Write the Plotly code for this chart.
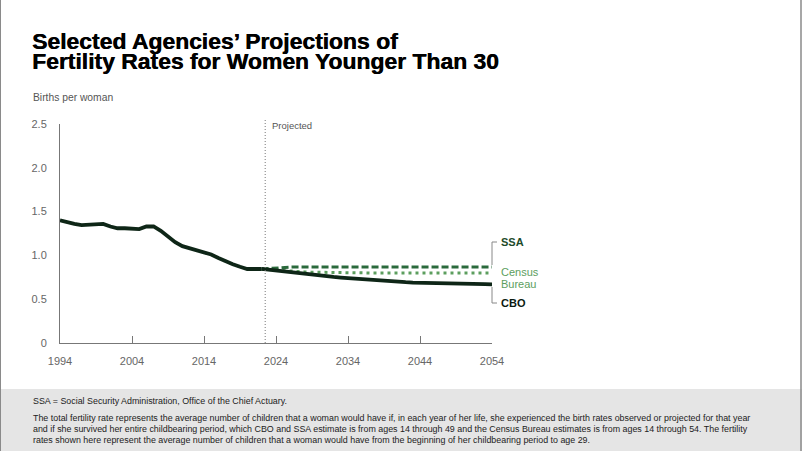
import plotly.graph_objects as go

# ---------------- data ----------------
hist_years = list(range(1994, 2023))
hist_values = [1.40, 1.375, 1.36, 1.345, 1.35, 1.345, 1.36, 1.33, 1.31, 1.31,
               1.30, 1.30, 1.33, 1.33, 1.28, 1.22, 1.15, 1.105, 1.08, 1.06,
               1.04, 1.01, 0.97, 0.93, 0.90, 0.87, 0.845, 0.845, 0.845]

proj_years = list(range(2022, 2055))
cbo_values = [0.845, 0.835, 0.825, 0.815, 0.805, 0.795, 0.786, 0.777, 0.769, 0.761,
              0.754, 0.747, 0.740, 0.733, 0.726, 0.720, 0.714, 0.708, 0.703, 0.698,
              0.694, 0.690, 0.687, 0.684, 0.681, 0.679, 0.677, 0.675, 0.674, 0.673,
              0.672, 0.671, 0.670]
ssa_values = [0.845, 0.852, 0.858, 0.863, 0.866, 0.868, 0.869, 0.869, 0.869, 0.869,
              0.869, 0.869, 0.869, 0.869, 0.869, 0.869, 0.869, 0.869, 0.869, 0.869,
              0.869, 0.869, 0.869, 0.869, 0.869, 0.869, 0.869, 0.869, 0.869, 0.869,
              0.869, 0.869, 0.869]
census_values = [0.845, 0.838, 0.831, 0.825, 0.820, 0.815, 0.811, 0.808, 0.806, 0.804,
                 0.803, 0.802, 0.801, 0.800, 0.800, 0.800, 0.800, 0.800, 0.800, 0.800,
                 0.800, 0.800, 0.800, 0.800, 0.800, 0.800, 0.800, 0.800, 0.800, 0.800,
                 0.800, 0.800, 0.800]

x_ticks = [1994, 2004, 2014, 2024, 2034, 2044, 2054]
y_ticks = [0, 0.5, 1.0, 1.5, 2.0, 2.5]
y_tick_labels = ["0", "0.5", "1.0", "1.5", "2.0", "2.5"]
projection_start = 2022.5

title_lines = ["Selected Agencies\u2019 Projections of",
               "Fertility Rates for Women Younger Than 30"]
note_lines = [
    "SSA = Social Security Administration, Office of the Chief Actuary.",
    "The total fertility rate represents the average number of children that a woman would have if, in each year of her life, she experienced the birth rates observed or projected for that year",
    "and if she survived her entire childbearing period, which CBO and SSA estimate is from ages 14 through 49 and the Census Bureau estimates is from ages 14 through 54. The fertility",
    "rates shown here represent the average number of children that a woman would have from the beginning of her childbearing period to age 29.",
]

# ---------------- styles ----------------
C_CBO = "#0e2617"
C_SSA = "#2b6a3c"
C_CEN = "#5c9e5e"
GRAY = "#666666"
FONT = "Liberation Sans, Arial, sans-serif"

W, H = 802, 451
ML, MR, MT, MB = 60, 310, 124, 108
PW, PH = W - ML - MR, H - MT - MB


def px(x):
    return (x - ML) / PW


def py(y):
    return (H - MB - y) / PH


fig = go.Figure()

fig.add_trace(go.Scatter(x=proj_years, y=census_values, mode="lines",
                         line=dict(color=C_CEN, width=3, dash="3px,4px"),
                         hoverinfo="skip", showlegend=False))
fig.add_trace(go.Scatter(x=proj_years, y=ssa_values, mode="lines",
                         line=dict(color=C_SSA, width=3, dash="7px,3px"),
                         hoverinfo="skip", showlegend=False))
fig.add_trace(go.Scatter(x=hist_years, y=hist_values, mode="lines",
                         line=dict(color=C_CBO, width=3.8),
                         hoverinfo="skip", showlegend=False))
fig.add_trace(go.Scatter(x=proj_years, y=cbo_values, mode="lines",
                         line=dict(color=C_CBO, width=3.8),
                         hoverinfo="skip", showlegend=False))

shapes = []
# footer box
shapes.append(dict(type="rect", xref="paper", yref="paper",
                   x0=px(0), x1=px(W), y0=py(H), y1=py(389),
                   fillcolor="#e5e5e5", line=dict(width=0), layer="below"))
# side borders
shapes.append(dict(type="line", xref="paper", yref="paper",
                   x0=px(0.5), x1=px(0.5), y0=py(0), y1=py(H),
                   line=dict(color="#8a8a8a", width=1)))
shapes.append(dict(type="line", xref="paper", yref="paper",
                   x0=px(W - 1), x1=px(W - 1), y0=py(0), y1=py(H),
                   line=dict(color="#8a8a8a", width=1.5)))
# projected divider
shapes.append(dict(type="line", xref="x", yref="paper",
                   x0=projection_start, x1=projection_start, y0=0, y1=py(119),
                   line=dict(color="#777777", width=1, dash="1px,2px")))
# brackets for labels
bx = px(492)
bx2 = px(497)
shapes.append(dict(type="line", xref="paper", yref="paper", x0=bx, x1=bx,
                   y0=py(265), y1=py(242), line=dict(color="#888888", width=1)))
shapes.append(dict(type="line", xref="paper", yref="paper", x0=bx, x1=bx2,
                   y0=py(242), y1=py(242), line=dict(color="#888888", width=1)))
shapes.append(dict(type="line", xref="paper", yref="paper", x0=bx, x1=bx,
                   y0=py(287), y1=py(303), line=dict(color="#888888", width=1)))
shapes.append(dict(type="line", xref="paper", yref="paper", x0=bx, x1=bx2,
                   y0=py(303), y1=py(303), line=dict(color="#888888", width=1)))

annotations = []
# titles
title_font = dict(family=FONT, size=22.9, color="#000000", shadow="0.5px 0px 0px #000000")
annotations.append(dict(text="<b>" + title_lines[0] + "</b>", xref="paper", yref="paper",
                        x=px(30), y=py(40.5), xanchor="left", yanchor="middle",
                        showarrow=False, font=title_font))
annotations.append(dict(text="<b>" + title_lines[1] + "</b>", xref="paper", yref="paper",
                        x=px(30), y=py(60.5), xanchor="left", yanchor="middle",
                        showarrow=False, font=title_font))
annotations.append(dict(text="Births per woman", xref="paper", yref="paper",
                        x=px(31), y=py(98), xanchor="left", yanchor="middle",
                        showarrow=False, font=dict(family=FONT, size=10.3, color="#555555")))
annotations.append(dict(text="Projected", xref="x", yref="paper",
                        x=projection_start, y=py(125), xanchor="left", yanchor="middle",
                        xshift=5, showarrow=False,
                        font=dict(family=FONT, size=9.5, color="#555555")))
# series labels
annotations.append(dict(text="<b>SSA</b>", xref="paper", yref="paper",
                        x=px(499), y=py(242), xanchor="left", yanchor="middle",
                        showarrow=False, font=dict(family=FONT, size=11, color="#1d4a2a")))
annotations.append(dict(text="Census", xref="paper", yref="paper",
                        x=px(499), y=py(272), xanchor="left", yanchor="middle",
                        showarrow=False, font=dict(family=FONT, size=11, color=C_CEN)))
annotations.append(dict(text="Bureau", xref="paper", yref="paper",
                        x=px(499), y=py(284), xanchor="left", yanchor="middle",
                        showarrow=False, font=dict(family=FONT, size=11, color=C_CEN)))
annotations.append(dict(text="<b>CBO</b>", xref="paper", yref="paper",
                        x=px(499), y=py(303), xanchor="left", yanchor="middle",
                        showarrow=False, font=dict(family=FONT, size=11, color="#0b1a10")))
# footer notes
note_y = [401, 418, 429, 440]
for t, yy in zip(note_lines, note_y):
    annotations.append(dict(text=t, xref="paper", yref="paper",
                            x=px(31), y=py(yy), xanchor="left", yanchor="middle",
                            showarrow=False,
                            font=dict(family=FONT, size=8.9, color="#222222")))

fig.update_layout(
    width=W, height=H,
    margin=dict(l=ML, r=MR, t=MT, b=MB, pad=0),
    paper_bgcolor="#ffffff", plot_bgcolor="#ffffff",
    shapes=shapes, annotations=annotations,
    xaxis=dict(range=[1994, 2054], tickvals=x_ticks, ticktext=[str(v) for v in x_ticks],
               showgrid=False, zeroline=False, showline=True, linecolor="#777777",
               linewidth=1, ticks="inside", ticklen=7, tickcolor="#777777",
               tickfont=dict(family=FONT, size=11, color=GRAY), ticklabelstandoff=8),
    yaxis=dict(range=[0, 2.5], tickvals=y_ticks, ticktext=y_tick_labels,
               showgrid=False, zeroline=False, showline=True, linecolor="#777777",
               linewidth=1, ticks="", tickfont=dict(family=FONT, size=11, color=GRAY),
               ticklabelstandoff=10),
)

fig.write_html("out.html", config={"displayModeBar": False},
               post_script="document.body.style.margin='0';")
